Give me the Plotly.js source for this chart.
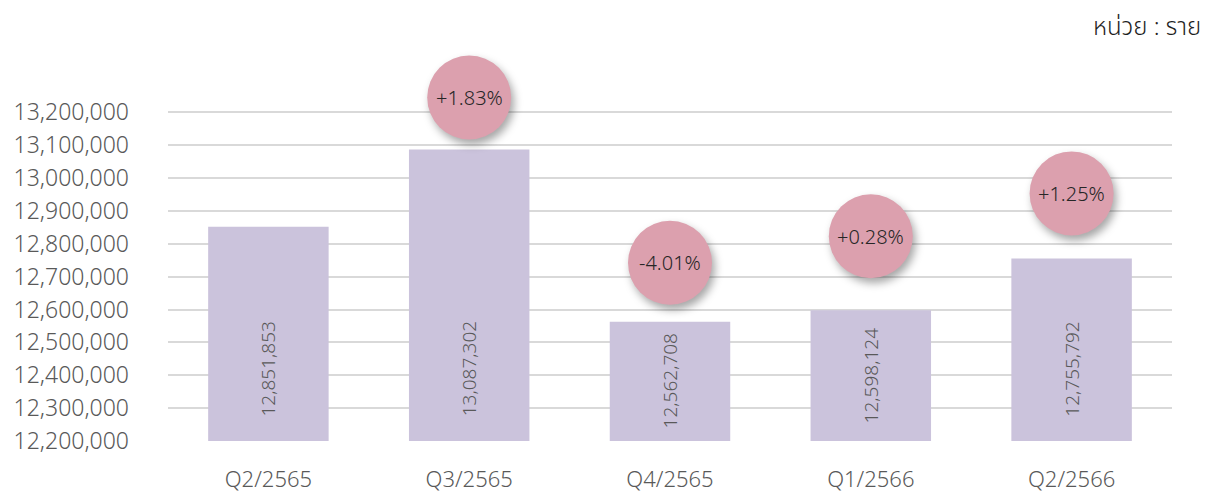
<!DOCTYPE html>
<html>
<head>
<meta charset="utf-8">
<script src="https://cdn.plot.ly/plotly-3.0.1.min.js"></script>
<style>
  html, body { margin: 0; padding: 0; background: #ffffff; }
  #chart { width: 1206px; height: 496px; }
</style>
</head>
<body>
<div id="chart"></div>
<script>
// ---- data ----
const categories = ["Q2/2565", "Q3/2565", "Q4/2565", "Q1/2566", "Q2/2566"];
const members = [12851853, 13087302, 12562708, 12598124, 12755792];
const changeLabels = [null, "+1.83%", "-4.01%", "+0.28%", "+1.25%"];
const yTickValues = [12200000, 12300000, 12400000, 12500000, 12600000, 12700000,
                     12800000, 12900000, 13000000, 13100000, 13200000];
const unitText = "หน่วย : ราย";

// ---- styling / layout config ----
const FONT = "'Noto Sans', 'Noto Sans Thai', sans-serif";
const axisBase = 12200000;
const badgeLiftPx = [0, 52, 59, 74, 65];   // badge centre above bar top (px)
const badgeRadius = 42;

const fmt = v => v.toLocaleString("en-US");

const trace = {
  type: "bar",
  x: categories,
  y: members.map(v => v - axisBase),
  base: axisBase,
  marker: { color: "#CBC3DC" },
  hoverinfo: "skip",
  showlegend: false
};

const shapes = [];
const annotations = [];

categories.forEach((c, i) => {
  const labelY = Math.min((axisBase + members[i]) / 2, axisBase + 72 * 3039.5);
  annotations.push({
    x: c, y: labelY, xref: "x", yref: "y",
    text: fmt(members[i]), textangle: -90, showarrow: false,
    xanchor: "center", yanchor: "middle",
    font: { family: FONT, size: 19, color: "#595959", weight: 300 }
  });
  if (changeLabels[i]) {
    shapes.push({
      type: "circle", xref: "x", yref: "y",
      xsizemode: "pixel", ysizemode: "pixel",
      xanchor: c, yanchor: members[i],
      x0: -badgeRadius, x1: badgeRadius,
      y0: badgeLiftPx[i] - badgeRadius, y1: badgeLiftPx[i] + badgeRadius,
      fillcolor: "#DCA0AE", line: { width: 0 }, layer: "above"
    });
    annotations.push({
      x: c, y: members[i], xref: "x", yref: "y", yshift: badgeLiftPx[i],
      text: changeLabels[i], showarrow: false,
      xanchor: "center", yanchor: "middle",
      font: { family: FONT, size: 20, color: "#262626", weight: 300 }
    });
  }
});

annotations.push({
  xref: "paper", yref: "paper", x: 1.031, y: 1.0, yshift: 43,
  xanchor: "right", yanchor: "top", showarrow: false,
  text: unitText,
  font: { family: FONT, size: 24, color: "#1f1f1f", weight: 300 }
});

const layout = {
  width: 1206, height: 496,
  margin: { l: 168, r: 34, t: 50, b: 55 },
  paper_bgcolor: "#ffffff", plot_bgcolor: "#ffffff",
  bargap: 0.4,
  font: { family: FONT, color: "#595959" },
  xaxis: {
    type: "category",
    showgrid: false, zeroline: false, showline: false,
    ticks: "", ticklabelstandoff: 23,
    tickfont: { family: FONT, size: 22, color: "#595959", weight: 300 },
    fixedrange: true
  },
  yaxis: {
    range: [12200000, 13390000],
    tickmode: "array",
    tickvals: yTickValues,
    ticktext: yTickValues.map(fmt),
    showgrid: true, gridcolor: "#D9D9D9", gridwidth: 2,
    zeroline: false, showline: false, ticks: "",
    ticklabelstandoff: 38,
    tickfont: { family: FONT, size: 23, color: "#595959", weight: 300 },
    fixedrange: true
  },
  shapes: shapes,
  annotations: annotations
};

Plotly.newPlot("chart", [trace], layout, { displayModeBar: false, staticPlot: true }).then(() => {
  document.querySelectorAll(".shapelayer path").forEach(p => {
    p.style.filter = "drop-shadow(3px 5px 4px rgba(0,0,0,0.35))";
  });
});
</script>
</body>
</html>
